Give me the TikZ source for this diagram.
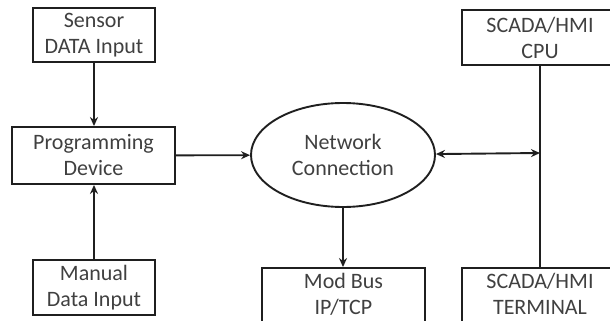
\documentclass[tikz,border=0pt]{standalone}
\usepackage{fontspec}
\setmainfont{Carlito}
\usetikzlibrary{shapes.geometric,arrows.meta}
\newcommand{\lowpad}{\rule[-8pt]{0pt}{1pt}}
\begin{document}
\begin{tikzpicture}[x=1pt,y=-1pt,
  line/.style={draw=black!88,line width=1.9pt},
  arr/.style={line,-{Stealth[length=9pt,width=8pt]}},
  darr/.style={line,{Stealth[length=9pt,width=8pt]}-{Stealth[length=9pt,width=8pt]}},
  box/.style={rectangle,line,inner sep=0pt,align=center,text=black!75,
    font=\fontsize{22}{26}\selectfont},
  oval/.style={ellipse,line,inner sep=0pt,align=center,text=black!75,
    font=\fontsize{22}{26}\selectfont}]
\useasboundingbox (0,0) rectangle (610,321);
\clip (0,0) rectangle (610,321);
\node[box,minimum width=122pt,minimum height=54pt] (sensor) at (94,35) {Sensor\\DATA Input};
\node[box,minimum width=163pt,minimum height=57pt] (prog) at (93.5,155.5) {Programming\\Device};
\node[box,minimum width=122pt,minimum height=55pt] (manual) at (94,287.5) {Manual\\Data Input};
\node[oval,minimum width=184pt,minimum height=104pt] (net) at (343,155) {Network\\Connection};
\node[box,minimum width=163pt,minimum height=60pt] (modbus) at (343.5,298) {Mod Bus\\IP/TCP\lowpad};
\node[box,minimum width=156pt,minimum height=55pt] (cpu) at (540,37.5) {SCADA/HMI\\CPU};
\node[box,minimum width=156pt,minimum height=60pt] (term) at (540,298) {SCADA/HMI\\TERMINAL\lowpad};
\coordinate (j) at (540,153);
\draw[arr] (sensor.south) -- (sensor.south |- prog.north);
\draw[arr] (manual.north) -- (manual.north |- prog.south);
\draw[arr] (prog) -- (net);
\draw[arr] (net.south) -- (net.south |- modbus.north);
\draw[line] (cpu.south) -- (term.north);
\draw[darr] (net) -- (j);
\end{tikzpicture}
\end{document}
